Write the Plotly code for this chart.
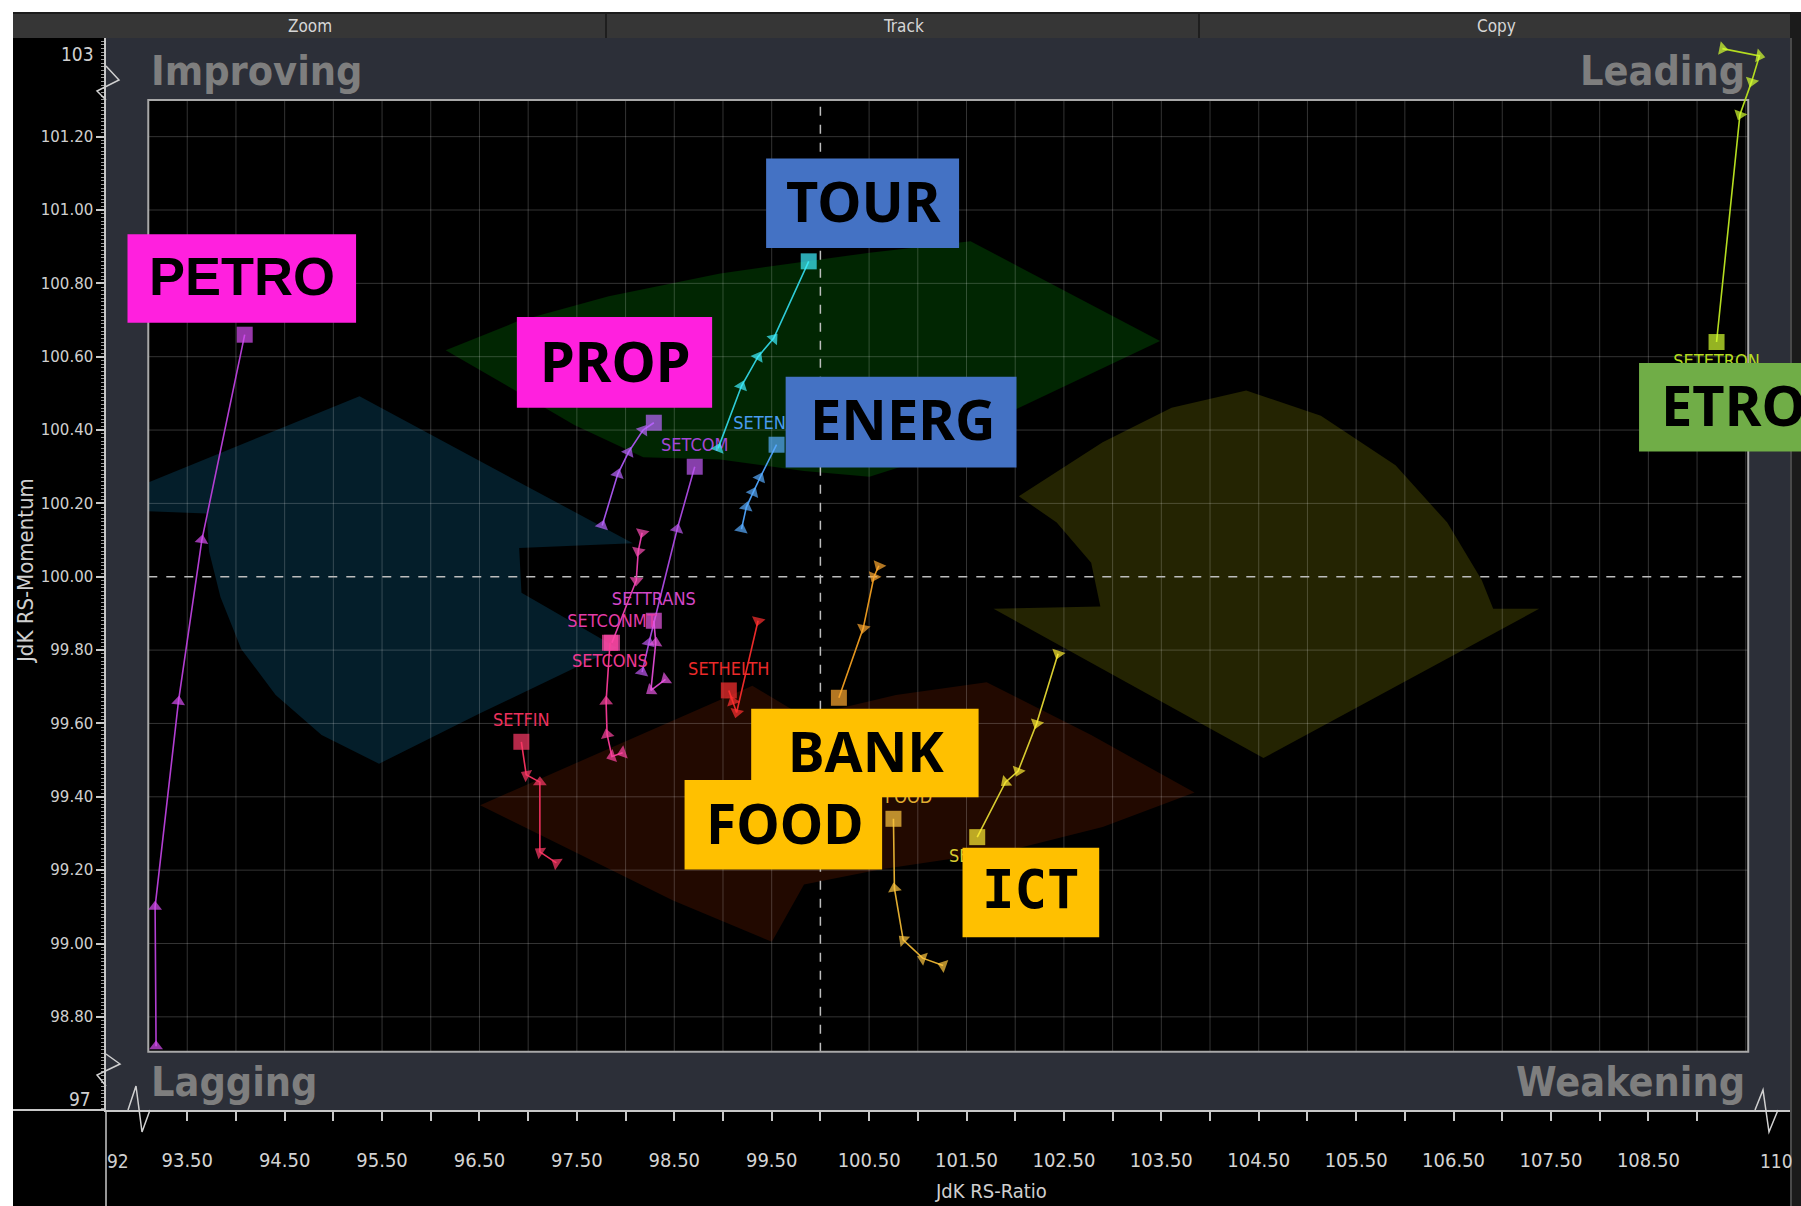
import numpy as np
import plotly.graph_objects as go

# ------------------------------------------------------------------ data
# JdK RS-Ratio (x) / JdK RS-Momentum (y) tails, oldest -> newest (last = current, square)
petro_x = [93.18, 93.17, 93.41, 93.65, 94.09]
petro_y = [98.72, 99.10, 99.66, 100.10, 100.66]
prop_x = [97.76, 97.92, 98.03, 98.18, 98.29]
prop_y = [100.14, 100.28, 100.34, 100.40, 100.42]
com_x = [98.17, 98.24, 98.53, 98.71]
com_y = [99.74, 99.82, 100.13, 100.30]
trans_x = [98.41, 98.26, 98.31, 98.29]
trans_y = [99.72, 99.69, 99.82, 99.88]
conmt_x = [98.17, 98.13, 98.11, 97.86]
conmt_y = [100.12, 100.07, 99.99, 99.82]
cons_x = [97.97, 97.86, 97.81, 97.80, 97.84]
cons_y = [99.52, 99.51, 99.57, 99.66, 99.82]
fin_x = [97.29, 97.12, 97.12, 96.98, 96.93]
fin_y = [99.22, 99.25, 99.44, 99.46, 99.55]
helth_x = [99.36, 99.14, 99.10, 99.06]
helth_y = [99.88, 99.63, 99.66, 99.69]
energ_x = [99.19, 99.24, 99.31, 99.38, 99.55]
energ_y = [100.13, 100.19, 100.23, 100.27, 100.36]
tour_x = [98.95, 99.19, 99.36, 99.52, 99.88]
tour_y = [100.35, 100.52, 100.60, 100.65, 100.86]
bank_x = [100.60, 100.55, 100.44, 100.19]
bank_y = [100.03, 100.00, 99.86, 99.67]
food_x = [101.26, 101.05, 100.85, 100.76, 100.75]
food_y = [98.94, 98.96, 99.01, 99.15, 99.34]
ict_x = [102.44, 102.22, 102.03, 101.90, 101.61]
ict_y = [99.79, 99.60, 99.47, 99.44, 99.29]
etron_x = [109.26, 109.64, 109.56, 109.44, 109.20]
etron_y = [101.44, 101.42, 101.35, 101.26, 100.64]

# visible point labels ("" where the label is fully covered in the picture)
point_labels = ["", "", "SETCOM", "SETTRANS", "SETCONMT", "SETCONS", "SETFIN",
                "SETHELTH", "SETENERG", "SETTOUR", "", "SETFOOD", "SETICT", "SETETRON"]

x_tick_values = [93.5, 94.5, 95.5, 96.5, 97.5, 98.5, 99.5, 100.5,
                 101.5, 102.5, 103.5, 104.5, 105.5, 106.5, 107.5, 108.5]
x_tick_labels = ["93.50", "94.50", "95.50", "96.50", "97.50", "98.50", "99.50", "100.50",
                 "101.50", "102.50", "103.50", "104.50", "105.50", "106.50", "107.50", "108.50"]
y_tick_values = [98.8, 99.0, 99.2, 99.4, 99.6, 99.8, 100.0, 100.2, 100.4, 100.6, 100.8, 101.0, 101.2]
y_tick_labels = ["98.80", "99.00", "99.20", "99.40", "99.60", "99.80", "100.00",
                 "100.20", "100.40", "100.60", "100.80", "101.00", "101.20"]
edge_labels = ["92", "110", "103", "97"]
quadrant_labels = ["Improving", "Leading", "Lagging", "Weakening"]
toolbar_labels = ["Zoom", "Track", "Copy"]
callout_labels = ["PETRO", "PROP", "TOUR", "ENERG", "FOOD", "BANK", "ICT", "ETRO"]

# ------------------------------------------------------------------ geometry / style
W, H = 1801, 1206
S = W / 1568.0                      # shown-reference px -> full px
L, R, T, B = 106, 1790, 38, 1110    # plot area (grey panel) in full px
X0, X1 = 92.666, 109.954
Y0, Y1 = 98.546, 101.469
IX0, IX1, IY0, IY1 = 93.10, 109.525, 98.705, 101.30   # inner black chart

NARROW = "DejaVu Sans Condensed, sans-serif"


def fx(xs):
    return X0 + (xs * S - L) / (R - L) * (X1 - X0)


def fy(ys):
    return Y1 - (ys * S - T) / (B - T) * (Y1 - Y0)


def px(p):
    return (p - L) / (R - L)


def py(p):
    return (B - p) / (B - T)


shapes = []


def prect(x0, y0, x1, y1, fill, layer="below"):
    shapes.append(dict(type="rect", xref="paper", yref="paper", x0=px(x0), x1=px(x1),
                       y0=py(y1), y1=py(y0), fillcolor=fill, line=dict(width=0), layer=layer))


def pline(pts, color, width=1.5, layer="above"):
    path = "M " + " L ".join(f"{px(a):.5f},{py(b):.5f}" for a, b in pts)
    shapes.append(dict(type="path", xref="paper", yref="paper", path=path,
                       line=dict(color=color, width=width), layer=layer))


def dpoly(pts, fill):
    path = "M " + " L ".join(f"{fx(a):.4f},{fy(b):.4f}" for a, b in pts) + " Z"
    shapes.append(dict(type="path", xref="x", yref="y", path=path, fillcolor=fill,
                       line=dict(width=0), layer="below"))


# page furniture
prect(0, 0, W, 12, "#ffffff")
prect(0, 0, 13, H, "#ffffff")
prect(13, 12, 1790, 38, "#363636")
prect(13, 12, 1790, 14, "#1c1c1c")
prect(1790, 12, W, H, "#1b1b1b")
pline([(1791, 38), (1791, H)], "#5a5a5a", 1.5)
pline([(606, 14), (606, 38)], "#1e1e1e", 2)
pline([(1199, 14), (1199, 38)], "#1e1e1e", 2)
# axis extensions and break marks
pline([(L, B), (L, H)], "#c8c8c8", 1.5)
pline([(13, B), (L, B)], "#c8c8c8", 2)
pline([(L, 66), (119, 80), (97, 91), (L, 100)], "#d0d0d0", 1.5)
pline([(L, 1054), (120, 1064), (97, 1075), (L, 1086)], "#d0d0d0", 1.5)
pline([(128, B), (136, 1086), (142, 1132), (150, B)], "#d0d0d0", 1.5)
pline([(1755, B), (1763, 1090), (1769, 1132), (1778, B)], "#d0d0d0", 1.5)

# inner black chart
shapes.append(dict(type="rect", xref="x", yref="y", x0=IX0, x1=IX1, y0=IY0, y1=IY1,
                   fillcolor="#000000", line=dict(width=0), layer="below"))

# faint rotation arrows (shown-px outlines)
dpoly([(129, 420), (313, 345), (551, 473), (452, 477), (454, 516), (537, 564), (418, 621),
       (330, 665), (280, 640), (240, 605), (210, 565), (192, 520), (182, 480), (180, 447),
       (129, 445)], "rgb(4,30,42)")
dpoly([(388, 305), (450, 280), (530, 258), (627, 238), (757, 220), (845, 210), (1010, 297),
       (885, 356), (820, 395), (757, 415), (700, 410), (627, 400), (560, 398), (500, 370),
       (440, 335)], "rgb(1,38,2)")
dpoly([(1085, 340), (1150, 362), (1215, 405), (1260, 455), (1290, 505), (1300, 530),
       (1340, 530), (1100, 660), (865, 530), (958, 528), (950, 490), (920, 455), (887, 432),
       (960, 385), (1020, 355)], "rgb(36,36,2)")
dpoly([(418, 701), (655, 597), (700, 624), (780, 605), (859, 594), (950, 640), (1040, 690),
       (960, 720), (880, 740), (766, 757), (700, 770), (672, 820), (586, 784)], "rgb(34,9,0)")

# grid
GRID = "rgba(255,255,255,0.20)"
for v in np.arange(93.5, 109.51, 0.5):
    if abs(v - 100.0) > 1e-6:
        shapes.append(dict(type="line", xref="x", yref="y", x0=v, x1=v, y0=IY0, y1=IY1,
                           line=dict(color=GRID, width=1), layer="below"))
for v in np.arange(98.8, 101.21, 0.2):
    if abs(v - 100.0) > 1e-6:
        shapes.append(dict(type="line", xref="x", yref="y", x0=IX0, x1=IX1, y0=v, y1=v,
                           line=dict(color=GRID, width=1), layer="below"))
shapes.append(dict(type="line", xref="x", yref="y", x0=IX0, x1=IX1, y0=100, y1=100,
                   line=dict(color="#bdbdbd", width=1.5, dash="dash"), layer="below"))
shapes.append(dict(type="line", xref="x", yref="y", x0=100, x1=100, y0=IY0, y1=IY1,
                   line=dict(color="#bdbdbd", width=1.5, dash="dash"), layer="below"))
shapes.append(dict(type="rect", xref="x", yref="y", x0=IX0, x1=IX1, y0=IY0, y1=IY1,
                   line=dict(color="#a8a8a8", width=2), layer="below"))

# ------------------------------------------------------------------ traces
series = [
    (petro_x, petro_y, "#b23ed2", "#d74ff2", "top center"),
    (prop_x, prop_y, "#a353e6", "#bb66ff", "top center"),
    (com_x, com_y, "#a447d8", "#bf5af2", "top center"),
    (trans_x, trans_y, "#d447c8", "#ea58e4", "top center"),
    (conmt_x, conmt_y, "#e23ca8", "#ff4fb8", "top center"),
    (cons_x, cons_y, "#ec3890", "#ff46a2", "bottom center"),
    (fin_x, fin_y, "#ec305c", "#ff3a68", "top center"),
    (helth_x, helth_y, "#ea2a2a", "#ff3030", "top center"),
    (energ_x, energ_y, "#4a9cf0", "#59adff", "top center"),
    (tour_x, tour_y, "#2fccd8", "#3ef0ff", "top center"),
    (bank_x, bank_y, "#e5961e", "#ffaa30", "bottom center"),
    (food_x, food_y, "#e0ac30", "#ffc840", "top center"),
    (ict_x, ict_y, "#d8cc30", "#ffee33", "bottom center"),
    (etron_x, etron_y, "#b4dc20", "#d4ff30", "bottom center"),
]

kx = (R - L) / (X1 - X0)
ky = (B - T) / (Y1 - Y0)
fig = go.Figure()
for (xs, ys, lcol, mcol, tpos), name in zip(series, point_labels):
    n = len(xs)
    ang = []
    for i in range(n):
        a, b = (0, 1) if i == 0 else (i - 1, i)
        ang.append(float(np.degrees(np.arctan2((xs[b] - xs[a]) * kx, (ys[b] - ys[a]) * ky))))
    ang[-1] = 0.0
    fig.add_trace(go.Scatter(
        x=xs, y=ys, mode="lines+markers+text" if name else "lines+markers",
        line=dict(color=lcol, width=1.6),
        marker=dict(symbol=["triangle-up"] * (n - 1) + ["square"],
                    size=[12] * (n - 1) + [16], angle=ang, color=mcol, line=dict(width=0)),
        text=[""] * (n - 1) + [name], textposition=tpos,
        textfont=dict(family=NARROW, size=18, color=lcol),
        cliponaxis=False, showlegend=False, hoverinfo="skip"))

# ------------------------------------------------------------------ callout boxes
box_specs = [  # (x0, y0, x1, y1) shown px, colour, font, size, text anchor point, alignment
    ((111, 204, 310, 281), "#ff20de", "Liberation Sans, Arial, sans-serif", 54, (211, 240), "center"),
    ((450, 276, 620, 355), "#ff20de", "Noto Sans, sans-serif", 56, (536, 313), "center"),
    ((667, 138, 835, 216), "#4472c4", "Noto Sans, sans-serif", 56, (752, 174), "center"),
    ((684, 328, 885, 407), "#4472c4", "Noto Sans, sans-serif", 56, (786, 364), "center"),
    ((596, 679, 768, 757), "#ffc000", "Noto Sans, sans-serif", 55, (683, 716), "center"),
    ((654, 617, 852, 694), "#ffc000", "Noto Sans, sans-serif", 55, (754, 653), "center"),
    ((838, 738, 957, 816), "#ffc000", "DejaVu Sans Mono, monospace", 54, (898, 774), "center"),
    ((1427, 316, 1600, 393), "#70ad47", "Noto Sans, sans-serif", 56, (1444, 352), "left"),
]
annotations = []
for lab, ((bx0, by0, bx1, by1), col, fam, fs, (tx, ty), al) in zip(callout_labels, box_specs):
    prect(bx0 * S, by0 * S, bx1 * S, by1 * S, col, layer="above")
    annotations.append(dict(xref="paper", yref="paper", x=px(tx * S), y=py(ty * S), text=lab,
                            showarrow=False, xanchor=al, yanchor="middle",
                            font=dict(family=fam, size=fs, color="#000000", weight="bold")))

# quadrant names
QF = dict(family=NARROW, size=41, color="#7e7e7e", weight="bold")
annotations += [
    dict(xref="paper", yref="paper", x=px(149), y=py(71), text=quadrant_labels[0], showarrow=False,
         xanchor="left", yanchor="middle", font=QF),
    dict(xref="paper", yref="paper", x=px(1747), y=py(71), text=quadrant_labels[1], showarrow=False,
         xanchor="right", yanchor="middle", font=QF),
    dict(xref="paper", yref="paper", x=px(149), y=py(1082), text=quadrant_labels[2], showarrow=False,
         xanchor="left", yanchor="middle", font=QF),
    dict(xref="paper", yref="paper", x=px(1747), y=py(1082), text=quadrant_labels[3], showarrow=False,
         xanchor="right", yanchor="middle", font=QF),
]
# toolbar
for lab, cx in zip(toolbar_labels, [310, 903, 1496]):
    annotations.append(dict(xref="paper", yref="paper", x=px(cx), y=py(26), text=lab, showarrow=False,
                            xanchor="center", yanchor="middle",
                            font=dict(family=NARROW, size=17, color="#d6d6d6")))
# broken-axis edge labels
EF = dict(family=NARROW, size=19, color="#d0d0d0")
for lab, (ex, ey) in zip(edge_labels, [(118, 1161), (1776, 1161), (77, 54), (80, 1099)]):
    annotations.append(dict(xref="paper", yref="paper", x=px(ex), y=py(ey), text=lab,
                            showarrow=False, xanchor="center", yanchor="middle", font=EF))
# axis titles
annotations.append(dict(xref="paper", yref="paper", x=px(991), y=py(1191), text="JdK RS-Ratio",
                        showarrow=False, xanchor="center", yanchor="middle",
                        font=dict(family=NARROW, size=20, color="#d0d0d0")))
annotations.append(dict(xref="paper", yref="paper", x=px(25), y=py(571), text="JdK RS-Momentum",
                        showarrow=False, xanchor="center", yanchor="middle", textangle=-90,
                        font=dict(family=NARROW, size=22, color="#d0d0d0")))

# ------------------------------------------------------------------ layout
x_ticks_all = [round(v, 2) for v in np.arange(93.5, 109.01, 0.5)]
x_text_all = [x_tick_labels[x_tick_values.index(v)] if v in x_tick_values else "" for v in x_ticks_all]

fig.update_layout(
    width=W, height=H,
    margin=dict(l=L, r=W - R, t=T, b=H - B, pad=0),
    paper_bgcolor="#000000", plot_bgcolor="#2c2f38",
    showlegend=False, shapes=shapes, annotations=annotations,
    xaxis=dict(range=[X0, X1], showgrid=False, zeroline=False, showline=True,
               linecolor="#c8c8c8", linewidth=2, ticks="outside", ticklen=9, tickwidth=1.5,
               tickcolor="#c8c8c8", tickmode="array", tickvals=x_ticks_all, ticktext=x_text_all,
               ticklabelstandoff=22,
               tickfont=dict(family=NARROW, size=20, color="#d4d4d4"), fixedrange=True),
    yaxis=dict(range=[Y0, Y1], showgrid=False, zeroline=False, showline=True,
               linecolor="#c8c8c8", linewidth=1.5, ticks="outside", ticklen=8, tickwidth=1.5,
               tickcolor="#c8c8c8", tickmode="array", tickvals=y_tick_values, ticktext=y_tick_labels,
               tickfont=dict(family="DejaVu Sans, sans-serif", size=15, color="#cfcfcf"),
               minor=dict(ticks="outside", ticklen=3, dtick=0.01, tick0=98.8,
                          tickcolor="#9a9a9a", tickwidth=1, showgrid=False),
               fixedrange=True),
)

fig.write_html("out.html", config={"displayModeBar": False},
               post_script="document.body.style.margin='0';document.body.style.overflow='hidden';")
